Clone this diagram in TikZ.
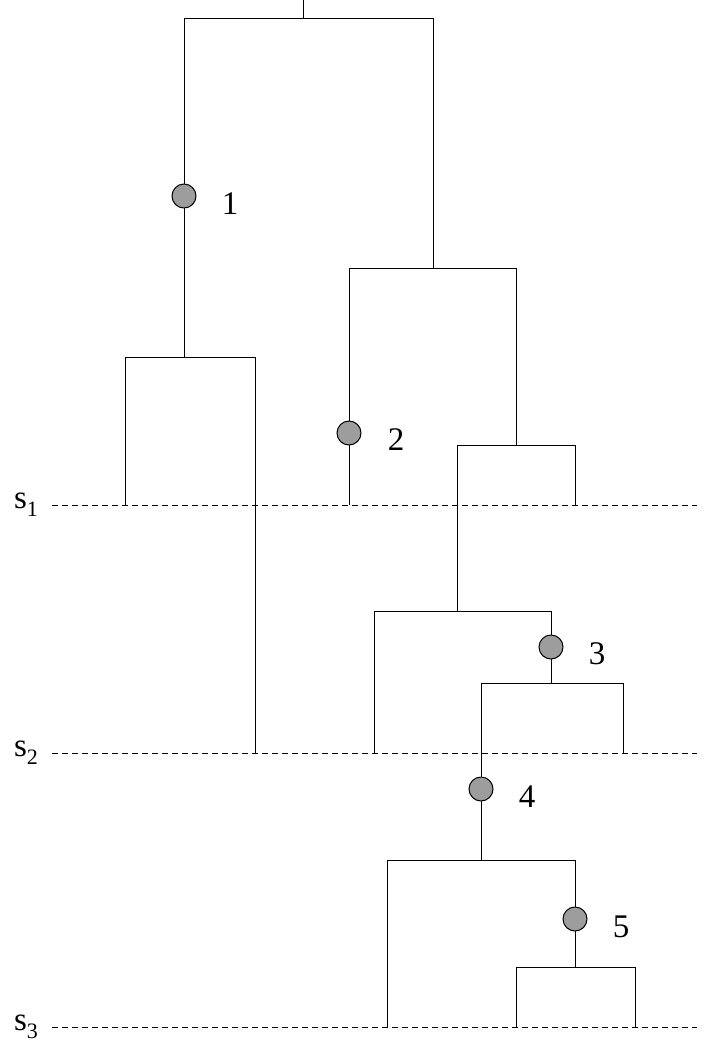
\documentclass[tikz,border=0pt]{standalone}
\usepackage{fontspec}
\setmainfont{Liberation Serif}
\begin{document}
\begin{tikzpicture}[x=1pt,y=-1pt,line width=1pt,
  dot/.style={circle,draw,fill=gray!90!black!70,minimum size=24pt,inner sep=0pt,line width=1pt},
  lab/.style={font=\fontsize{33}{36}\selectfont},
  sep/.style={dash pattern=on 6pt off 4pt,line width=1pt}]
\useasboundingbox (0,0) rectangle (705,1050);
% tree
\draw (303,0) -- (303,18);
\draw (184,357) -- (184,18) -- (433,18) -- (433,268);
\draw (125,505) -- (125,357) -- (255,357) -- (255,753);
\draw (349,505) -- (349,268) -- (516,268) -- (516,445);
\draw (457,611) -- (457,445) -- (575,445) -- (575,505);
\draw (374,753) -- (374,611) -- (551,611) -- (551,683);
\draw (481,860) -- (481,683) -- (623,683) -- (623,753);
\draw (387,1027) -- (387,860) -- (575,860) -- (575,967);
\draw (516,1027) -- (516,967) -- (635,967) -- (635,1027);
% separators
\foreach \y/\n in {505/1,753/2,1027/3}{
  \draw[sep] (52,\y) -- (697,\y);
  \node[lab,anchor=center] (s\n) at (26,\y) {s\raisebox{-8pt}{\fontsize{22}{24}\selectfont\n}};
}
% dots
\node[dot] (d1) at (184,196) {};
\node[dot] (d2) at (349,433) {};
\node[dot] (d3) at (551,647) {};
\node[dot] (d4) at (481,789) {};
\node[dot] (d5) at (575,919) {};
\node[lab] (l1) at (230,204) {1};
\node[lab] (l2) at (396,440) {2};
\node[lab] (l3) at (597,654) {3};
\node[lab] (l4) at (527,797) {4};
\node[lab] (l5) at (621,927) {5};
\end{tikzpicture}
\end{document}
